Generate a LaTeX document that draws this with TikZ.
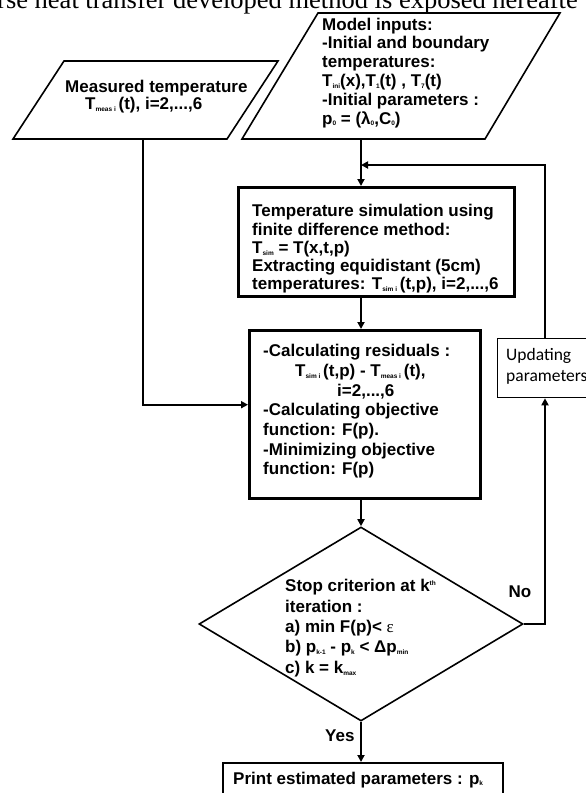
\documentclass[tikz,border=0pt]{standalone}
\usepackage{fontspec}
\setmainfont{Liberation Sans}
\newfontfamily\serifface{Liberation Serif}
\newfontfamily\calface{Carlito}
\usetikzlibrary{shapes.geometric,arrows.meta}
\newcommand{\sbx}[1]{\raisebox{-1.8pt}{\fontsize{6.5}{7}\selectfont #1}}
\newcommand{\spx}[1]{\raisebox{6pt}{\fontsize{6.5}{7}\selectfont #1}}
\newcommand{\tlines}[1]{\begin{tabular}[t]{@{}l@{}}#1\end{tabular}}
\begin{document}
\begin{tikzpicture}[x=1pt,y=-1pt,
  txt/.style={inner sep=0pt, anchor=base west, font=\fontsize{17}{#1}\selectfont\bfseries},
  txt/.default=18.8,
  para/.style={draw, line width=1.6pt, line join=miter},
  box/.style={draw, rectangle, inner sep=0pt, anchor=north west},
  conn/.style={line width=2.2pt, -{Triangle[length=7pt,width=7pt]}}]
\useasboundingbox (0,0) rectangle (586,793);
\clip (0,0) rectangle (586,793);

% cut-off line of page text
\node[inner sep=0pt, anchor=base west, font=\serifface\fontsize{26.5}{30}\selectfont] (head) at (-3,8.5) {rse heat transfer developed method is exposed hereafte};

% input parallelograms
\draw[para] (64,61) -- (278,61) -- (227,139) -- (13,139) -- cycle;
\coordinate (measbot) at (142.7,139);
\draw[para] (318,13) -- (560,13) -- (485,139) -- (242,139) -- cycle;
\coordinate (modbot) at (361,139);

% process boxes
\node[box, line width=2.6pt, minimum width=276pt, minimum height=109pt] (sim) at (237,186) {};
\node[box, line width=3.4pt, minimum width=231pt, minimum height=168pt] (calc) at (248,329) {};
\node[box, line width=1.3pt, minimum width=110pt, minimum height=59pt] (upd) at (497,338) {};
\node[box, line width=1.7pt, minimum width=280pt, minimum height=50pt] (print) at (222,762) {};
\node[draw, diamond, line width=1.6pt, inner sep=0pt, minimum width=324pt, minimum height=194pt] (dia) at (361,624) {};

% connectors
\coordinate (fb) at (545,165);
\coordinate (fbj) at (361,165);
\draw[conn] (modbot) -- (modbot |- sim.north);
\draw[conn] (modbot |- sim.south) -- (modbot |- calc.north);
\draw[conn] (modbot |- calc.south) -- (dia.north);
\draw[conn] (measbot) |- ([yshift=10pt]calc.west);
\draw[conn] (dia.east) -| (fb |- upd.south);
\draw[conn] (fb |- upd.north) |- (fbj);
\draw[conn] (dia.south) -- (dia.south |- print.north);

% texts
\node[txt=14.8] (tmeas) at (65,92.7) {\tlines{Measured temperature\\
\hspace*{20pt}T\sbx{meas i}\,(t), i=2,...,6}};
\node[txt=18.8] (tmod) at (322,30) {\tlines{Model inputs:\\
-Initial and boundary\\
temperatures:\\
T\sbx{ini}(x),T\sbx{1}(t) , T\sbx{7}(t)\\
-Initial parameters :\\
p\sbx{0} = (λ\sbx{0},C\sbx{0})}};
\node[txt=18.3] (tsim) at (252,216.7) {\tlines{Temperature simulation using\\
finite difference method:\\
T\sbx{sim} = T(x,t,p)\\
Extracting equidistant (5cm)\\
temperatures: T\sbx{sim i}\,(t,p), i=2,...,6}};
\node[txt=19.7] (tcalc) at (263,356.7) {\tlines{-Calculating residuals :\\
\hspace*{32pt}T\sbx{sim i}\,(t,p) - T\sbx{meas i}\,(t),\\
\hspace*{74pt}i=2,...,6\\
-Calculating objective\\
function: F(p).\\
-Minimizing objective\\
function: F(p)}};
\node[inner sep=0pt, anchor=base west, font=\calface\fontsize{17.5}{21}\selectfont] (tupd) at (506,360) {\tlines{Updating\\parameters}};
\node[txt=20.4] (tdia) at (285,591.7) {\tlines{Stop criterion at k\spx{th}\\
iteration :\\
a) min F(p)< {\serifface\mdseries ε}\\
b) p\sbx{k-1} - p\sbx{k} < Δp\sbx{min}\\
c) k = k\sbx{max}}};
\node[txt, anchor=base] (tno) at (520,597.7) {No};
\node[txt] (tyes) at (325,741.7) {Yes};
\node[txt] (tprint) at (233,784) {Print estimated parameters : p\sbx{k}};
\end{tikzpicture}
\end{document}
